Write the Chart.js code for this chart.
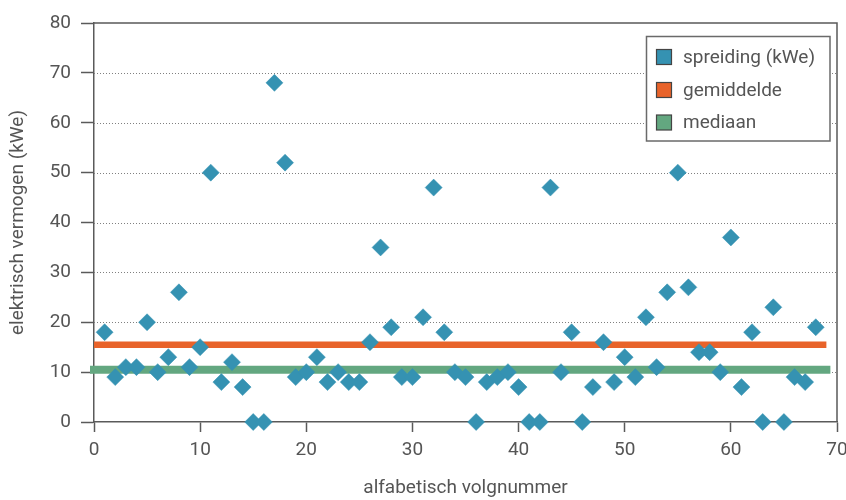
<!DOCTYPE html>
<html>
<head>
<meta charset="utf-8">
<script src="https://cdn.jsdelivr.net/npm/chart.js@4/dist/chart.umd.min.js"></script>
<style>
  html, body { margin: 0; padding: 0; background: #ffffff; }
  #wrap { width: 846px; height: 500px; }
</style>
</head>
<body>
<div id="wrap"><canvas id="c" width="846" height="500"></canvas></div>
<script>
// ---- data ----
const volgnummers = [1,2,3,4,5,6,7,8,9,10,11,12,13,14,15,16,17,18,19,20,21,22,23,24,25,26,27,28,29,30,31,32,33,34,35,36,37,38,39,40,41,42,43,44,45,46,47,48,49,50,51,52,53,54,55,56,57,58,59,60,61,62,63,64,65,66,67,68];
const vermogen = [18,9,11,11,20,10,13,26,11,15,50,8,12,7,0,0,68,52,9,10,13,8,10,8,8,16,35,19,9,9,21,47,18,10,9,0,8,9,10,7,0,0,47,10,18,0,7,16,8,13,9,21,11,26,50,27,14,14,10,37,7,18,0,23,0,9,8,19];
const gemiddelde = 15.5;
const mediaan = 10.5;
const lijnStart = 0;
const lijnEind = 69;
const xTicks = [0,10,20,30,40,50,60,70];
const yTicks = [0,10,20,30,40,50,60,70,80];
const labels = ['spreiding (kWe)', 'gemiddelde', 'mediaan'];
const colors = ['#3592b2', '#e8632a', '#63a780'];

const FONT = 'Roboto, "DejaVu Sans", sans-serif';
const TXT = '#555555';
const AXIS = '#5a5a5a';

const framePlugin = {
  id: 'frame',
  beforeDatasetsDraw(chart) {
    const {ctx, chartArea: a, scales: {x, y}} = chart;
    ctx.save();
    // dotted grid lines
    ctx.strokeStyle = '#808080';
    ctx.lineWidth = 1;
    ctx.setLineDash([1, 2]);
    yTicks.forEach(v => {
      if (v === 0 || v === 80) return;
      const py = Math.round(y.getPixelForValue(v)) + 0.5;
      ctx.beginPath(); ctx.moveTo(a.left, py); ctx.lineTo(a.right, py); ctx.stroke();
    });
    ctx.setLineDash([]);
    // top and right frame
    ctx.strokeStyle = AXIS;
    ctx.lineWidth = 1.5;
    ctx.beginPath();
    ctx.moveTo(a.left, y.getPixelForValue(80));
    ctx.lineTo(x.getPixelForValue(70), y.getPixelForValue(80));
    ctx.lineTo(x.getPixelForValue(70), y.getPixelForValue(0));
    ctx.stroke();
    ctx.restore();
  },
  afterDraw(chart) {
    const {ctx} = chart;
    // legend box
    const bx = 646.5, by = 36.5, bw = 183.5, bh = 104.5;
    ctx.save();
    ctx.fillStyle = '#ffffff';
    ctx.fillRect(bx, by, bw, bh);
    ctx.strokeStyle = '#6a6a6a';
    ctx.lineWidth = 1.5;
    ctx.strokeRect(bx, by, bw, bh);
    ctx.font = '19px ' + FONT;
    ctx.textBaseline = 'middle';
    ctx.textAlign = 'left';
    const rows = [57, 90, 122.5];
    chart.data.datasets.forEach((ds, i) => {
      const cy = rows[i];
      ctx.fillStyle = colors[i];
      ctx.fillRect(656.5, cy - 7.5, 15, 15);
      ctx.strokeStyle = '#444';
      ctx.lineWidth = 1.2;
      ctx.strokeRect(656.5, cy - 7.5, 15, 15);
      ctx.fillStyle = TXT;
      ctx.fillText(ds.label, 683, cy + 1);
    });
    ctx.restore();
  }
};

const chart = new Chart(document.getElementById('c'), {
  type: 'scatter',
  data: {
    datasets: [
      {
        label: labels[0],
        data: volgnummers.map((n, i) => ({x: n, y: vermogen[i]})),
        backgroundColor: colors[0],
        borderColor: colors[0],
        pointStyle: 'rectRot',
        pointRadius: 8.5,
        pointBorderWidth: 0.5,
        order: 0
      },
      {
        label: labels[1],
        data: [{x: lijnStart, y: gemiddelde}, {x: lijnEind, y: gemiddelde}],
        showLine: true,
        borderColor: colors[1],
        backgroundColor: colors[1],
        borderWidth: 6.5,
        pointRadius: 0,
        borderCapStyle: 'butt',
        order: 2
      },
      {
        label: labels[2],
        data: [{x: lijnStart, y: mediaan}, {x: lijnEind, y: mediaan}],
        showLine: true,
        borderColor: colors[2],
        backgroundColor: colors[2],
        borderWidth: 8,
        pointRadius: 0,
        borderCapStyle: 'square',
        order: 1
      }
    ]
  },
  options: {
    responsive: false,
    animation: false,
    clip: false,
    layout: { padding: { top: 23, right: 4.5, left: 0, bottom: 0 } },
    plugins: {
      legend: { display: false },
      tooltip: { enabled: false }
    },
    scales: {
      x: {
        type: 'linear',
        min: 0, max: 70,
        afterBuildTicks(scale) { scale.ticks = xTicks.map(v => ({value: v})); },
        afterFit(scale) { scale.height = 78; scale.paddingLeft = 0; scale.paddingRight = 0; },
        grid: { drawOnChartArea: false, drawTicks: true, tickLength: 10, tickColor: AXIS, tickWidth: 1.5 },
        border: { color: AXIS, width: 1.5 },
        ticks: { color: TXT, font: { family: FONT, size: 19 }, padding: 7, maxRotation: 0 },
        title: { display: true, text: 'alfabetisch volgnummer', color: TXT, font: { family: FONT, size: 19 }, padding: { top: 0, bottom: 0 } }
      },
      y: {
        type: 'linear',
        min: 0, max: 80,
        afterBuildTicks(scale) { scale.ticks = yTicks.map(v => ({value: v})); },
        afterFit(scale) { scale.width = 94; },
        grid: { drawOnChartArea: false, drawTicks: true, tickLength: 13, tickColor: AXIS, tickWidth: 1.5 },
        border: { color: AXIS, width: 1.5 },
        ticks: { color: TXT, font: { family: FONT, size: 19 }, padding: 10 },
        title: { display: true, text: 'elektrisch vermogen (kWe)', color: TXT, font: { family: FONT, size: 19 }, padding: { top: 7, bottom: 0 } }
      }
    }
  },
  plugins: [framePlugin]
});
</script>
</body>
</html>
